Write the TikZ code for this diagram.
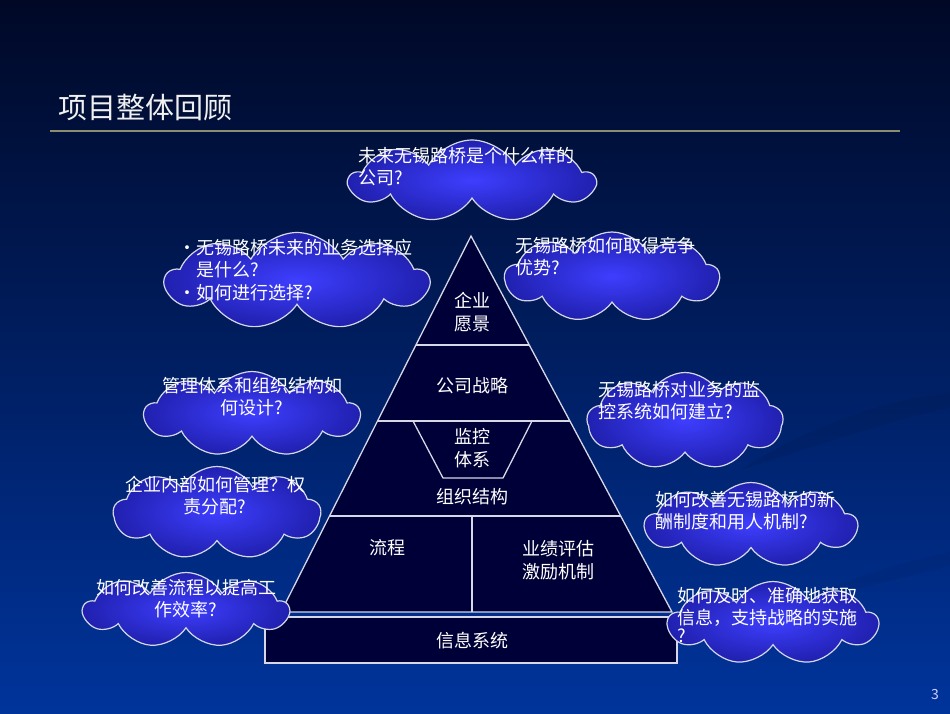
\documentclass[tikz,border=0pt]{standalone}
\usepackage{fontspec}
\setmainfont{Noto Sans CJK SC}
\usetikzlibrary{calc}
\usetikzlibrary{positioning}
\usetikzlibrary{shapes.symbols}
\definecolor{bgtop}{RGB}{0,8,38}
\definecolor{bgmid}{RGB}{0,36,115}
\definecolor{bgbot}{RGB}{0,52,155}
\definecolor{cloudin}{RGB}{62,62,255}
\definecolor{cloudout}{RGB}{32,32,175}
\definecolor{cloudline}{RGB}{215,215,235}
\definecolor{pyrfill}{RGB}{0,0,56}
\definecolor{pyrline}{RGB}{215,215,230}
\definecolor{rulecol}{RGB}{140,140,110}
\tikzset{
  mycloud/.style={
    cloud,
    cloud puffs=9,
    cloud puff arc=120,
    draw=cloudline,
    line width=1.2pt,
    inner color=cloudin,
    outer color=cloudout,
    inner sep=0pt,
  },
  cloudtext/.style={
    text=white,
    inner sep=0pt,
    align=left,
    anchor=north west,
    font=\fontsize{18}{22.5}\selectfont,
  },
  pyrtext/.style={
    text=white,
    inner sep=0pt,
    align=center,
    font=\fontsize{18}{23}\selectfont,
  },
  pyrline/.style={
    draw=pyrline,
    line width=1.3pt,
  },
}

\begin{document}
\begin{tikzpicture}[x=1pt, y=-1pt]
    \useasboundingbox (0,0) rectangle (950,713);
    \shade[top color=bgtop, middle color=bgmid, bottom color=bgbot] (0,0) rectangle (950,713);

    % faint swirls
    \fill[black, opacity=0.06] (740,470) .. controls (820,420) and (890,400) .. (950,392) -- (950,408) .. controls (890,420) and (820,445) .. (740,470);
    \fill[black, opacity=0.05] (800,600) .. controls (860,575) and (910,560) .. (950,552) -- (950,566) .. controls (910,575) and (860,590) .. (800,600);

    % title
    \node[text=white!88!gray, anchor=west, inner sep=0pt, font=\fontsize{29}{30}\selectfont] (title) at (58,108) {项目整体回顾};
    \draw[rulecol, line width=1.6pt] (50,131) -- (900,131);

    % pyramid
    \coordinate (apex) at (471,236);
    \coordinate (bl) at (281,612);
    \coordinate (br) at (672,612);
    \filldraw[pyrline, fill=pyrfill] (265,617) rectangle (677,663);
    \filldraw[pyrline, fill=pyrfill] (apex) -- (bl) -- (br) -- cycle;
    \foreach \t in {0.29,0.492,0.745}
      \draw[pyrline] ($(apex)!\t!(bl)$) -- ($(apex)!\t!(br)$);
    \draw[pyrline] (413,421) -- (443,478) -- (503,478) -- (532,421);
    \draw[pyrline] (472,516) -- (472,612);

    \node[pyrtext] (vision)   at (472,312) {企业\\愿景};
    \node[pyrtext] (strategy) at (472,386) {公司战略};
    \node[pyrtext] (monitor)  at (472,448) {监控\\体系};
    \node[pyrtext] (orgstruct) at (472,497) {组织结构};
    \node[pyrtext] (process)  at (387,548) {流程};
    \node[pyrtext] (kpi)      at (558,560) {业绩评估\\激励机制};
    \node[pyrtext] (infosys)  at (472,641) {信息系统};

    % clouds
    \node[mycloud, minimum width=245, minimum height=82] (qcompany)  at (472,181) {};
    \node[mycloud, minimum width=263, minimum height=97] (qbusiness) at (297,281) {};
    \node[mycloud, minimum width=214, minimum height=90] (qcompete)  at (612,277) {};
    \node[mycloud, minimum width=215, minimum height=85] (qmanage)   at (252,414) {};
    \node[mycloud, minimum width=207, minimum height=93] (qinner)    at (217,513) {};
    \node[mycloud, minimum width=205, minimum height=75] (qprocess)  at (186,610) {};
    \node[mycloud, minimum width=196, minimum height=97] (qmonitor)  at (685,421) {};
    \node[mycloud, minimum width=212, minimum height=85] (qsalary)   at (751,525) {};
    \node[mycloud, minimum width=210, minimum height=83] (qinfo)     at (773,623) {};

    \node[cloudtext] (tcompany)  at (358,147) {未来无锡路桥是个什么样的\\公司?};
    \node[cloudtext] (tbusiness) at (178,239) {\makebox[18pt][l]{•}无锡路桥未来的业务选择应\\\hspace*{18pt}是什么?\\\makebox[18pt][l]{•}如何进行选择?};
    \node[cloudtext] (tcompete)  at (515,237) {无锡路桥如何取得竞争\\优势?};
    \node[cloudtext, anchor=north, align=center] (tmanage)  at (252,377) {管理体系和组织结构如\\何设计?};
    \node[cloudtext, anchor=north, align=center] (tinner)   at (215,476) {企业内部如何管理？权\\责分配?};
    \node[cloudtext, anchor=north, align=center] (tprocess) at (186,579) {如何改善流程以提高工\\作效率?};
    \node[cloudtext] (tmonitor)  at (598,381) {无锡路桥对业务的监\\控系统如何建立?};
    \node[cloudtext] (tsalary)   at (655,491) {如何改善无锡路桥的新\\酬制度和用人机制?};
    \node[cloudtext] (tinfo)     at (677,587) {如何及时、准确地获取\\信息，支持战略的实施\\[-5pt]?};

    \node[text=white!80!blue, inner sep=0pt, font=\fontsize{14}{14}\selectfont] (pagenum) at (935,694) {3};
\end{tikzpicture}
\end{document}
